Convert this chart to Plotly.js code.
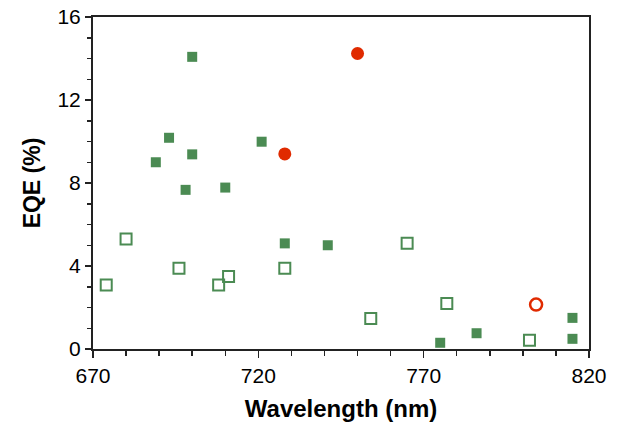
<!DOCTYPE html>
<html><head><meta charset="utf-8">
<script src="https://cdn.plot.ly/plotly-3.0.1.min.js"></script>
<style>html,body{margin:0;padding:0;background:#fff}#chart{width:623px;height:428px}</style>
</head><body><div id="chart"></div>
<script>
// Filled green squares
const filledSqX = [700, 693, 689, 700, 698, 710, 721, 728, 741, 775, 786, 815, 815];
const filledSqY = [14.08, 10.18, 9.0, 9.38, 7.67, 7.78, 9.99, 5.09, 5.0, 0.3, 0.76, 1.5, 0.49];
// Open green squares
const openSqX = [674, 680, 696, 708, 711, 728, 765, 754, 777, 802];
const openSqY = [3.08, 5.3, 3.89, 3.08, 3.49, 3.89, 5.1, 1.47, 2.19, 0.42];
// Filled red circles
const filledCircX = [728, 750];
const filledCircY = [9.4, 14.24];
// Open red circles
const openCircX = [804];
const openCircY = [2.14];

const green = '#4b8b53';
const red = '#e02a00';

const traces = [
  {x: filledSqX, y: filledSqY, type: 'scatter', mode: 'markers',
   marker: {symbol: 'square', size: 10, color: green, line: {width: 0}}},
  {x: openSqX, y: openSqY, type: 'scatter', mode: 'markers',
   marker: {symbol: 'square-open', size: 11, color: green, line: {width: 2, color: green}}},
  {x: filledCircX, y: filledCircY, type: 'scatter', mode: 'markers',
   marker: {symbol: 'circle', size: 13, color: red, line: {width: 0}}},
  {x: openCircX, y: openCircY, type: 'scatter', mode: 'markers',
   marker: {symbol: 'circle-open', size: 12, color: red, line: {width: 2.5, color: red}}}
];

const font = {family: 'Liberation Sans, Arial, sans-serif', color: '#000'};

const layout = {
  width: 623, height: 428,
  margin: {l: 93, r: 34, t: 17, b: 79},
  showlegend: false,
  paper_bgcolor: '#fff', plot_bgcolor: '#fff',
  font: font,
  xaxis: {
    range: [670, 820], tickvals: [670, 720, 770, 820],
    showgrid: false, zeroline: false,
    showline: true, linecolor: '#222', linewidth: 2, mirror: true,
    ticks: 'outside', ticklen: 7, tickwidth: 1.5, tickcolor: '#222',
    minor: {dtick: 10, tick0: 670, ticks: 'outside', ticklen: 5, tickwidth: 1.5, tickcolor: '#222', showgrid: false},
    tickfont: {family: font.family, size: 21, color: '#000'},
    title: {text: '<b>Wavelength (nm)</b>', font: {family: font.family, size: 24, color: '#000'}, standoff: 14}
  },
  yaxis: {
    range: [0, 16], tickvals: [0, 4, 8, 12, 16],
    showgrid: false, zeroline: false,
    showline: true, linecolor: '#222', linewidth: 2, mirror: true,
    ticks: 'outside', ticklen: 6, tickwidth: 1.5, tickcolor: '#222',
    minor: {dtick: 1, tick0: 0, ticks: 'outside', ticklen: 4, tickwidth: 1.5, tickcolor: '#222', showgrid: false},
    tickfont: {family: font.family, size: 21, color: '#000'},
    title: {text: '<b>EQE (%)</b>', font: {family: font.family, size: 23, color: '#000'}, standoff: 10}
  }
};

Plotly.newPlot('chart', traces, layout, {displayModeBar: false, staticPlot: true});
</script></body></html>
